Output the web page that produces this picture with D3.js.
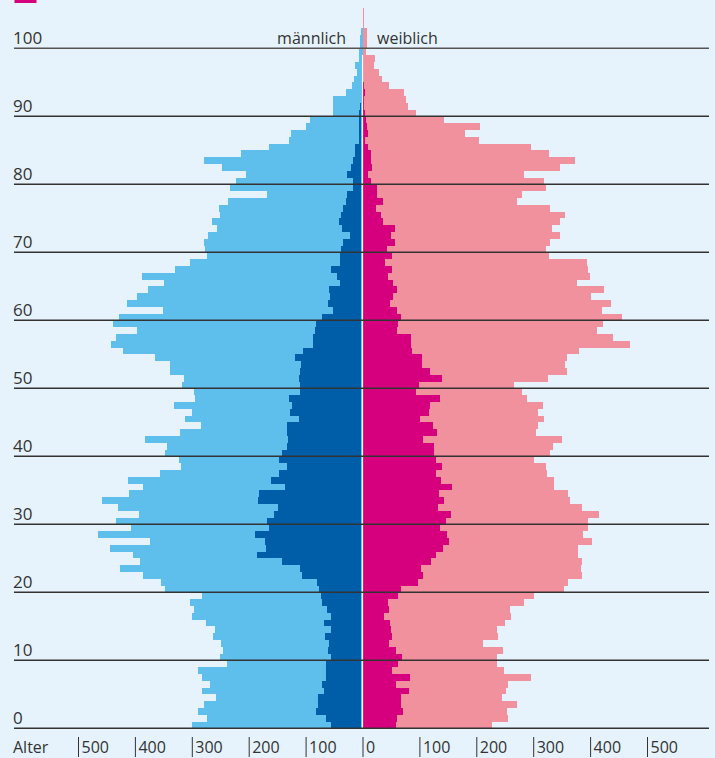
<!DOCTYPE html>
<html>
<head>
<meta charset="utf-8">
<script src="https://cdnjs.cloudflare.com/ajax/libs/d3/7.8.5/d3.min.js"></script>
<style>
  body { margin: 0; background: #e6f3fc; }
  svg { display: block; font-family: "Open Sans", sans-serif; }
</style>
</head>
<body>
<script>
// population by age (thousands), ages 0.. upwards
var maleTotal = [300, 273, 289, 279, 257, 282, 268, 282, 289, 238,
                 250, 245, 249, 263, 259, 275, 300, 296, 303, 282,
                 347, 354, 386, 426, 391, 403, 444, 373, 465, 407,
                 433, 393, 430, 458, 410, 386, 412, 356, 319, 323,
                 347, 344, 382, 321, 284, 312, 300, 331, 294, 296,
                 317, 314, 338, 338, 365, 421, 442, 433, 396, 438,
                 428, 351, 414, 396, 377, 349, 388, 330, 303, 273,
                 277, 279, 272, 256, 265, 250, 252, 236, 168, 233,
                 222, 205, 247, 279, 214, 164, 129, 126, 99, 92,
                 52, 52, 52, 29, 18, 15, 10, 13, 6, 6,
                 5, 5, 2]
var maleForeign = [55, 64, 82, 78, 78, 68, 71, 64, 64, 64,
                   55, 61, 59, 66, 55, 68, 55, 62, 71, 73,
                   76, 80, 106, 110, 141, 185, 170, 171, 189, 164,
                   168, 156, 149, 184, 182, 136, 161, 147, 133, 147,
                   141, 133, 131, 133, 133, 112, 127, 124, 129, 110,
                   110, 112, 110, 108, 119, 105, 87, 87, 83, 82,
                   71, 52, 61, 57, 59, 40, 45, 55, 40, 40,
                   38, 34, 22, 36, 41, 38, 34, 29, 27, 17,
                   17, 27, 20, 17, 13, 13, 6, 6, 6, 6,
                   6, 4, 2, 2, 1, 1, 1, 1, 0, 0,
                   0, 0, 0]
var femaleTotal = [228, 256, 254, 272, 245, 252, 256, 296, 249, 236,
                   236, 247, 212, 238, 236, 250, 261, 259, 284, 301,
                   354, 361, 386, 384, 386, 379, 379, 403, 388, 396,
                   396, 416, 386, 365, 361, 337, 337, 324, 323, 301,
                   330, 335, 351, 305, 308, 319, 308, 317, 289, 280,
                   266, 326, 359, 356, 359, 380, 470, 440, 412, 423,
                   456, 421, 437, 402, 425, 377, 400, 396, 395, 328,
                   323, 330, 347, 333, 347, 356, 330, 272, 280, 323,
                   319, 284, 347, 373, 328, 296, 205, 180, 207, 143,
                   94, 80, 76, 73, 47, 34, 29, 20, 22, 6,
                   8, 8, 8, 2, 2, 2]
var femaleForeign = [59, 61, 71, 68, 68, 82, 59, 83, 52, 62,
                     69, 59, 47, 52, 50, 48, 38, 47, 45, 62,
                     68, 98, 106, 103, 120, 129, 141, 152, 149, 136,
                     147, 156, 133, 143, 134, 157, 138, 129, 140, 129,
                     126, 126, 106, 131, 124, 101, 117, 119, 136, 94,
                     99, 140, 119, 105, 105, 87, 85, 85, 61, 62,
                     68, 61, 48, 54, 61, 54, 45, 52, 40, 52,
                     43, 57, 50, 57, 36, 33, 24, 36, 25, 25,
                     15, 10, 17, 15, 15, 10, 4, 10, 8, 6,
                     4, 3, 3, 4, 3, 1, 1, 1, 0, 0,
                     0, 0, 0, 0, 0, 0]

var ageTicks = [0, 10, 20, 30, 40, 50, 60, 70, 80, 90, 100]
var valueTicks = [-500, -400, -300, -200, -100, 0, 100, 200, 300, 400, 500]

var w = 715
var h = 758
var colors = {bg: "#e6f3fc", male: "#5ebfec", maleDark: "#005ea8",
              female: "#f0919d", femaleDark: "#d6007e", line: "#333"}

var svg = d3.select("body")
            .append("svg")
            .attr("width", w)
            .attr("height", h)

svg.append("rect")
   .attr("width", w)
   .attr("height", h)
   .attr("fill", colors.bg)

// small legend swatch cut off at the top
svg.append("rect")
   .attr("x", 14.5)
   .attr("y", 0)
   .attr("width", 22)
   .attr("height", 3)
   .attr("fill", colors.femaleDark)

var xScale = d3.scaleLinear()
               .domain([-500, 500])
               .range([78, 647])
var yScale = d3.scaleLinear()
               .domain([0, 100])
               .range([728.3, 48.3])

function drawBars(values, sign, color, cls) {
  svg.selectAll("." + cls)
     .data(values)
     .enter()
     .append("rect")
     .attr("class", cls)
     .attr("x", function(d) { return sign < 0 ? xScale(-d) : xScale(0) })
     .attr("width", function(d) { return Math.abs(xScale(d) - xScale(0)) })
     .attr("y", function(d, i) { return yScale(i + 1) })
     .attr("height", function(d, i) { return yScale(i) - yScale(i + 1) })
     .attr("fill", color)
     .attr("shape-rendering", "crispEdges")
}

drawBars(maleTotal, -1, colors.male, "m")
drawBars(maleForeign, -1, colors.maleDark, "md")
drawBars(femaleTotal, 1, colors.female, "f")
drawBars(femaleForeign, 1, colors.femaleDark, "fd")

// light centre gap
svg.append("line")
   .attr("x1", xScale(0) - 1).attr("x2", xScale(0) - 1)
   .attr("y1", yScale(0)).attr("y2", yScale(99))
   .attr("stroke", colors.male)
   .attr("stroke-width", 1)
svg.append("line")
   .attr("x1", xScale(0)).attr("x2", xScale(0))
   .attr("y1", yScale(0)).attr("y2", yScale(99))
   .attr("stroke", "#f4faff")
   .attr("stroke-width", 1.2)

// horizontal age lines and labels
svg.selectAll(".grid")
   .data(ageTicks)
   .enter()
   .append("line")
   .attr("class", "grid")
   .attr("x1", 14).attr("x2", 709)
   .attr("y1", function(d) { return yScale(d) })
   .attr("y2", function(d) { return yScale(d) })
   .attr("stroke", function(d) { return d == 100 ? "#555" : colors.line })
   .attr("stroke-width", 1.5)

svg.selectAll(".agelabel")
   .data(ageTicks)
   .enter()
   .append("text")
   .attr("class", "agelabel")
   .attr("x", 13)
   .attr("y", function(d) { return yScale(d) - 4 })
   .attr("font-size", 17)
   .attr("fill", "#333")
   .text(function(d) { return d })

svg.append("text")
   .attr("x", 346)
   .attr("y", 44)
   .attr("text-anchor", "end")
   .attr("font-size", 16)
   .attr("fill", "#333")
   .text("männlich")

svg.append("text")
   .attr("x", 377)
   .attr("y", 44)
   .attr("font-size", 16)
   .attr("fill", "#333")
   .text("weiblich")

// bottom value axis
var axis = svg.append("g")
              .attr("transform", "translate(0,737)")
              .call(d3.axisBottom(xScale)
                      .tickValues(valueTicks)
                      .tickSize(20)
                      .tickFormat(function(d) { return Math.abs(d) }))
axis.select(".domain").remove()
axis.selectAll(".tick line").attr("stroke", colors.line)
axis.selectAll(".tick text")
    .attr("text-anchor", "start")
    .attr("x", 3)
    .attr("y", 16)
    .attr("dy", 0)
    .attr("font-size", 16)
    .attr("font-family", "Open Sans, sans-serif")
    .attr("fill", "#333")

svg.append("text")
   .attr("x", 13)
   .attr("y", 753)
   .attr("font-size", 16)
   .attr("fill", "#333")
   .text("Alter")
</script>
</body>
</html>
